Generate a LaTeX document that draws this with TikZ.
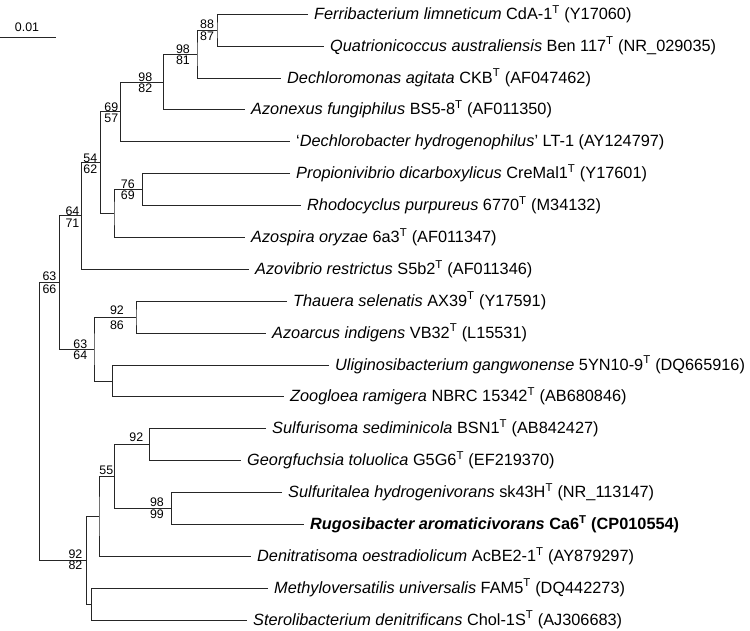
\documentclass[tikz,border=0pt]{standalone}
\usepackage{fontspec}
\setmainfont{Liberation Sans}
\newcommand{\tsup}{\textsuperscript{T}}
\begin{document}
\begin{tikzpicture}[x=1pt,y=-1pt,
  br/.style={line width=1pt, draw=black!85},
  leaf/.style={anchor=west, inner xsep=6pt, inner ysep=0pt, text height=10pt, text depth=0pt, font=\fontsize{16.3}{19}\selectfont},
  bs/.style={inner sep=0pt, font=\fontsize{12.4}{14}\selectfont},
]
\useasboundingbox (0,0) rectangle (750,631);
% scale bar
\coordinate (sb0) at (0,38);
\coordinate (sb1) at (55.7,38);
\draw[br] (sb0) -- (sb1);
\node[bs] (sbl) at (27,27.5) {0.01};
% leaves
\node[leaf] (L0)  at (308,14.3)  {\textit{Ferribacterium limneticum} CdA-1\tsup{} (Y17060)};
\node[leaf] (L1)  at (324,46.2)  {\textit{Quatrionicoccus australiensis} Ben 117\tsup{} (NR\_029035)};
\node[leaf] (L2)  at (281,78.1)  {\textit{Dechloromonas agitata} CKB\tsup{} (AF047462)};
\node[leaf] (L3)  at (245,110.0) {\textit{Azonexus fungiphilus} BS5-8\tsup{} (AF011350)};
\node[leaf] (L4)  at (290,141.8) {`\textit{Dechlorobacter hydrogenophilus}' LT-1 (AY124797)};
\node[leaf] (L5)  at (290,173.7) {\textit{Propionivibrio dicarboxylicus} CreMal1\tsup{} (Y17601)};
\node[leaf] (L6)  at (301,205.6) {\textit{Rhodocyclus purpureus} 6770\tsup{} (M34132)};
\node[leaf] (L7)  at (245,237.5) {\textit{Azospira oryzae} 6a3\tsup{} (AF011347)};
\node[leaf] (L8)  at (249,269.3) {\textit{Azovibrio restrictus} S5b2\tsup{} (AF011346)};
\node[leaf] (L9)  at (287,301.2) {\textit{Thauera selenatis} AX39\tsup{} (Y17591)};
\node[leaf] (L10) at (266,333.1) {\textit{Azoarcus indigens} VB32\tsup{} (L15531)};
\node[leaf] (L11) at (329,365.0) {\textit{Uliginosibacterium gangwonense} 5YN10-9\tsup{} (DQ665916)};
\node[leaf] (L12) at (284,396.9) {\textit{Zoogloea ramigera} NBRC 15342\tsup{} (AB680846)};
\node[leaf] (L13) at (266,428.7) {\textit{Sulfurisoma sediminicola} BSN1\tsup{} (AB842427)};
\node[leaf] (L14) at (241,460.6) {\textit{Georgfuchsia toluolica} G5G6\tsup{} (EF219370)};
\node[leaf] (L15) at (282,492.5) {\textit{Sulfuritalea hydrogenivorans} sk43H\tsup{} (NR\_113147)};
\node[leaf] (L16) at (304,524.4) {\textbf{\textit{Rugosibacter aromaticivorans} Ca6\tsup{} (CP010554)}};
\node[leaf] (L17) at (251,556.3) {\textit{Denitratisoma oestradiolicum} AcBE2-1\tsup{} (AY879297)};
\node[leaf] (L18) at (268,588.1) {\textit{Methyloversatilis universalis} FAM5\tsup{} (DQ442273)};
\node[leaf] (L19) at (247,620.0) {\textit{Sterolibacterium denitrificans} Chol-1S\tsup{} (AJ306683)};
% internal nodes
\coordinate (n01)   at (217,30.3);
\coordinate (nA)    at (197,54.2);
\coordinate (nB)    at (163.7,82.1);
\coordinate (nC)    at (120.3,112.0);
\coordinate (n56)   at (142.3,189.7);
\coordinate (nE)    at (114,213.6);
\coordinate (nD)    at (100.3,162.8);
\coordinate (nF)    at (81.3,216.0);
\coordinate (n910)  at (136,317.2);
\coordinate (n1112) at (112.7,381.0);
\coordinate (nH)    at (94,349.1);
\coordinate (nG)    at (59.7,282.6);
\coordinate (n1314) at (149.7,444.7);
\coordinate (n1516) at (171.7,508.5);
\coordinate (nI)    at (114.7,476.6);
\coordinate (nJ)    at (99,516.4);
\coordinate (n1819) at (91.7,604.0);
\coordinate (nK)    at (86.7,560.2);
\coordinate (root)  at (39.3,421.4);
% branches
\draw[br] (L0.west) -| (n01) |- (L1.west);
\draw[br] (n01) -| (nA) |- (L2.west);
\draw[br] (nA) -| (nB) |- (L3.west);
\draw[br] (nB) -| (nC) |- (L4.west);
\draw[br] (L5.west) -| (n56) |- (L6.west);
\draw[br] (n56) -| (nE) |- (L7.west);
\draw[br] (nC) -| (nD) |- (nE);
\draw[br] (nD) -| (nF) |- (L8.west);
\draw[br] (L9.west) -| (n910) |- (L10.west);
\draw[br] (L11.west) -| (n1112) |- (L12.west);
\draw[br] (n910) -| (nH) |- (n1112);
\draw[br] (nF) -| (nG) |- (nH);
\draw[br] (L13.west) -| (n1314) |- (L14.west);
\draw[br] (L15.west) -| (n1516) |- (L16.west);
\draw[br] (n1314) -| (nI) |- (n1516);
\draw[br] (nI) -| (nJ) |- (L17.west);
\draw[br] (L18.west) -| (n1819) |- (L19.west);
\draw[br] (nJ) -| (nK) |- (n1819);
\draw[br] (nG) -| (root) |- (nK);
% bootstrap values
\node[bs] (b01a) at (207,24.5) {88};
\node[bs] (b01b) at (207,36) {87};
\node[bs] (bAa) at (183,49) {98};
\node[bs] (bAb) at (183,60.5) {81};
\node[bs] (bBa) at (145.3,77) {98};
\node[bs] (bBb) at (145.3,88.7) {82};
\node[bs] (bCa) at (111.3,107) {69};
\node[bs] (bCb) at (111.3,118.3) {57};
\node[bs] (bDa) at (90.3,158) {54};
\node[bs] (bDb) at (90.3,169) {62};
\node[bs] (b56a) at (127.8,184) {76};
\node[bs] (b56b) at (127.8,195.7) {69};
\node[bs] (bFa) at (72.5,211) {64};
\node[bs] (bFb) at (72.5,223) {71};
\node[bs] (bGa) at (49.5,276.7) {63};
\node[bs] (bGb) at (49.5,289) {66};
\node[bs] (b910a) at (117,310) {92};
\node[bs] (b910b) at (117,325.3) {86};
\node[bs] (bHa) at (80.3,344) {63};
\node[bs] (bHb) at (80.3,355.3) {64};
\node[bs] (b1314) at (136.3,437.7) {92};
\node[bs] (bI) at (106.3,470) {55};
\node[bs] (b1516a) at (157,502.3) {98};
\node[bs] (b1516b) at (157,514.3) {99};
\node[bs] (bKa) at (75.5,554.7) {92};
\node[bs] (bKb) at (75.5,565.7) {82};
\end{tikzpicture}
\end{document}
